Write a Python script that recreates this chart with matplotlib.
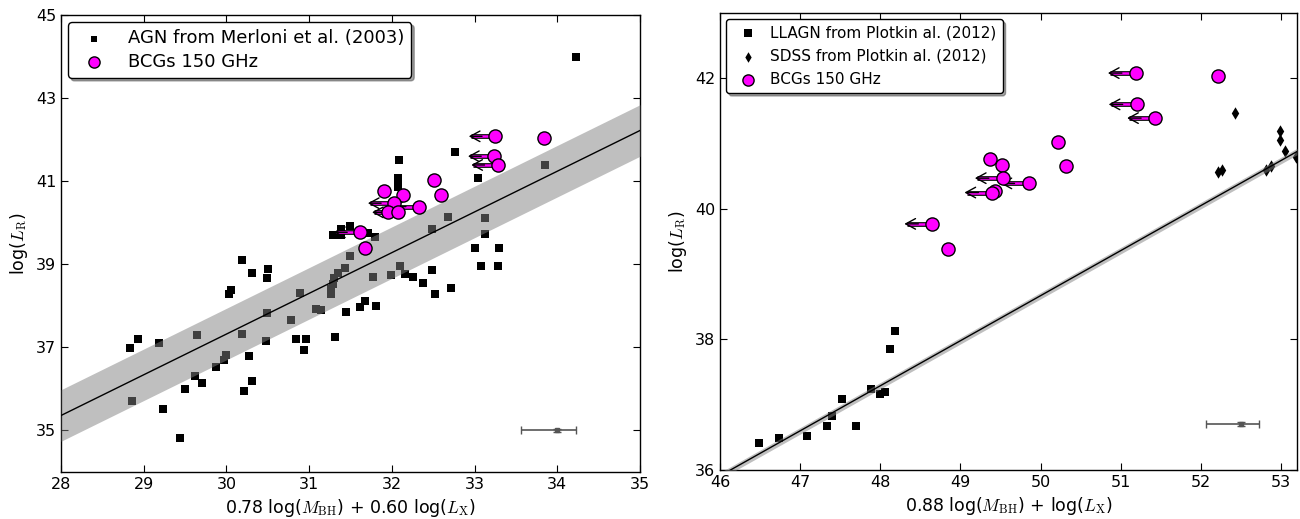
import numpy as np
import matplotlib
matplotlib.use("Agg")
import matplotlib.pyplot as plt
import matplotlib.patheffects as pe

# ---------------- data: left panel ----------------
agn_x = [30.19, 30.31, 30.50, 30.49, 30.06, 30.03, 30.89, 30.49, 30.78, 30.19,
         29.64, 29.19, 28.93, 28.84, 30.48, 30.84, 30.96, 30.94, 31.31, 30.27,
         29.99, 29.97, 29.87, 29.62, 29.71, 29.50, 30.31, 30.21, 28.86, 29.23,
         29.44, 31.08, 31.14, 31.45, 31.49, 31.43, 31.35, 31.30, 31.29, 31.27,
         31.26, 31.62, 31.29, 31.39, 31.39, 31.49,
         32.76, 32.09, 32.08, 32.08, 32.08, 33.04, 33.85, 32.68, 33.13, 33.13,
         33.00, 33.29, 33.08, 33.28, 32.48, 32.10, 31.99, 32.16, 32.26, 32.38,
         32.48, 32.52, 32.71, 31.77, 31.80, 31.68, 31.81, 31.71, 34.23]
agn_y = [39.10, 38.79, 38.88, 38.66, 38.39, 38.29, 38.32, 37.82, 37.65, 37.33,
         37.30, 37.10, 37.21, 36.99, 37.16, 37.19, 37.19, 36.94, 37.25, 36.79,
         36.82, 36.70, 36.53, 36.30, 36.15, 36.00, 36.20, 35.94, 35.71, 35.51,
         34.81, 37.93, 37.91, 37.84, 39.19, 38.92, 38.79, 38.66, 38.53, 38.41,
         38.28, 37.97, 39.70, 39.70, 39.86, 39.92,
         41.71, 41.51, 41.08, 40.97, 40.87, 41.08, 41.40, 40.14, 40.12, 39.72,
         39.39, 39.40, 38.96, 38.96, 39.84, 38.96, 38.73, 38.77, 38.69, 38.56,
         38.87, 38.29, 38.44, 38.69, 39.65, 38.11, 37.99, 39.76, 43.98]

bcg_y = [42.08, 42.03, 41.60, 41.39, 41.03, 40.77, 40.67, 40.66, 40.47, 40.39,
         40.27, 40.25, 39.77, 39.38]
bcg_lim = [True, False, True, True, False, False, False, False, True, True,
           False, True, True, False]
bcg_x_left = [33.25, 33.84, 33.24, 33.28, 32.51, 31.90, 32.13, 32.60, 32.03, 32.33,
              31.95, 32.08, 31.62, 31.68]
bcg_x_right = [51.19, 52.21, 51.20, 51.43, 50.22, 49.37, 49.52, 50.32, 49.53, 49.85,
               49.43, 49.40, 48.65, 48.85]

fit_left = (35.36, 0.98, 28.0)     # value at x0, slope, x0
band_left = 0.62
err_left = (34.0, 35.0, 0.44, 0.23, 0.03)

# ---------------- data: right panel ----------------
llagn_x = [46.49, 46.73, 47.09, 47.34, 47.40, 47.52, 47.70, 47.88, 48.00, 48.06, 48.12, 48.18]
llagn_y = [36.42, 36.49, 36.52, 36.67, 36.83, 37.09, 36.67, 37.24, 37.16, 37.19, 37.85, 38.13]
sdss_x = [52.43, 52.99, 52.99, 53.05, 52.21, 52.27, 52.81, 52.87, 53.19]
sdss_y = [41.47, 41.20, 41.05, 40.89, 40.57, 40.60, 40.59, 40.66, 40.80]

fit_right = (35.91, 0.69, 46.0)
band_right = 0.05
err_right = (52.5, 36.70, 0.43, 0.23, 0.03)

# ---------------- style ----------------
plt.rcParams.update({
    "font.family": "DejaVu Sans",
    "mathtext.fontset": "cm",
    "mathtext.default": "it",
    "xtick.direction": "in",
    "ytick.direction": "in",
    "xtick.top": True,
    "ytick.right": True,
    "xtick.major.size": 5,
    "ytick.major.size": 5,
    "xtick.labelsize": 11.5,
    "ytick.labelsize": 11.5,
    "axes.linewidth": 1.0,
})

fig = plt.figure(figsize=(13, 5.19), dpi=100)
axL = fig.add_axes([61/1300, 47/519, 579/1300, 457/519])
axR = fig.add_axes([720/1300, 49/519, 577/1300, 457/519])

MAG = "#ff00ff"


def draw_arrow(ax, x, y, L):
    ax.plot([x - L * 0.92, x], [y, y], color=MAG, lw=1.8, solid_capstyle="butt", zorder=4,
            path_effects=[pe.Stroke(linewidth=3.4, foreground="k"), pe.Normal()])
    ax.annotate("", xy=(x - L, y), xytext=(x - L * 0.5, y),
                arrowprops=dict(arrowstyle="->,head_length=0.7,head_width=0.38",
                                color="k", lw=1.0, shrinkA=0, shrinkB=0),
                zorder=4)


def panel(ax, xlim, ylim, fit, band, err):
    b0, slope, x0 = fit
    xx = np.linspace(xlim[0], xlim[1], 200)
    yy = b0 + slope * (xx - x0)
    ax.fill_between(xx, yy - band, yy + band, color="gray", alpha=0.5, lw=0, zorder=3)
    ax.plot(xx, yy, color="k", lw=1.0, zorder=3.5)
    ex, ey, el, er, eyv = err
    ax.errorbar([ex], [ey], xerr=[[el], [er]], yerr=[[eyv], [eyv]], fmt="s", ms=3,
                color="#555555", ecolor="#555555", capsize=3, elinewidth=1.2, zorder=3)
    ax.set_xlim(*xlim)
    ax.set_ylim(*ylim)


# Left panel
axL.scatter(agn_x, agn_y, marker="s", s=30, color="k", lw=0, zorder=2,
            label="AGN from Merloni et al. (2003)")
panel(axL, (28, 35), (34, 45), fit_left, band_left, err_left)
for x, y, lim in zip(bcg_x_left, bcg_y, bcg_lim):
    if lim:
        draw_arrow(axL, x, y, 0.32)
axL.scatter(bcg_x_left, bcg_y, marker="o", s=90, color=MAG, edgecolor="k", lw=1.0,
            zorder=5, label="BCGs 150 GHz")
axL.set_yticks([35, 37, 39, 41, 43, 45])
axL.set_xticks(range(28, 36))
axL.set_xlabel(r"0.78 log($M_{\rm BH}$) + 0.60 log($L_{\rm X}$)", fontsize=12.5)
axL.set_ylabel(r"log($L_{\rm R}$)", fontsize=12.5)
axL.legend(loc="upper left", fontsize=13, scatterpoints=1, shadow=True, fancybox=True,
           framealpha=1, edgecolor="k", borderaxespad=0.4, handletextpad=0.9,
           labelspacing=0.3, markerscale=0.85)

# Right panel
axR.scatter(llagn_x, llagn_y, marker="s", s=36, color="k", lw=0, zorder=2,
            label="LLAGN from Plotkin al. (2012)")
axR.scatter(sdss_x, sdss_y, marker="d", s=40, color="k", lw=0, zorder=2,
            label="SDSS from Plotkin al. (2012)")
panel(axR, (46, 53.2), (36, 43), fit_right, band_right, err_right)
for x, y, lim in zip(bcg_x_right, bcg_y, bcg_lim):
    if lim:
        draw_arrow(axR, x, y, 0.35)
axR.scatter(bcg_x_right, bcg_y, marker="o", s=90, color=MAG, edgecolor="k", lw=1.0,
            zorder=5, label="BCGs 150 GHz")
axR.set_yticks([36, 38, 40, 42])
axR.set_xticks(range(46, 54))
axR.set_xlabel(r"0.88 log($M_{\rm BH}$) + log($L_{\rm X}$)", fontsize=12.5)
axR.set_ylabel(r"log($L_{\rm R}$)", fontsize=12.5)
axR.legend(loc="upper left", fontsize=11, scatterpoints=1, shadow=True, fancybox=True,
           framealpha=1, edgecolor="k", borderaxespad=0.4, handletextpad=0.5,
           labelspacing=0.55, markerscale=0.85)

fig.savefig("out.png", dpi=100, facecolor="white")
